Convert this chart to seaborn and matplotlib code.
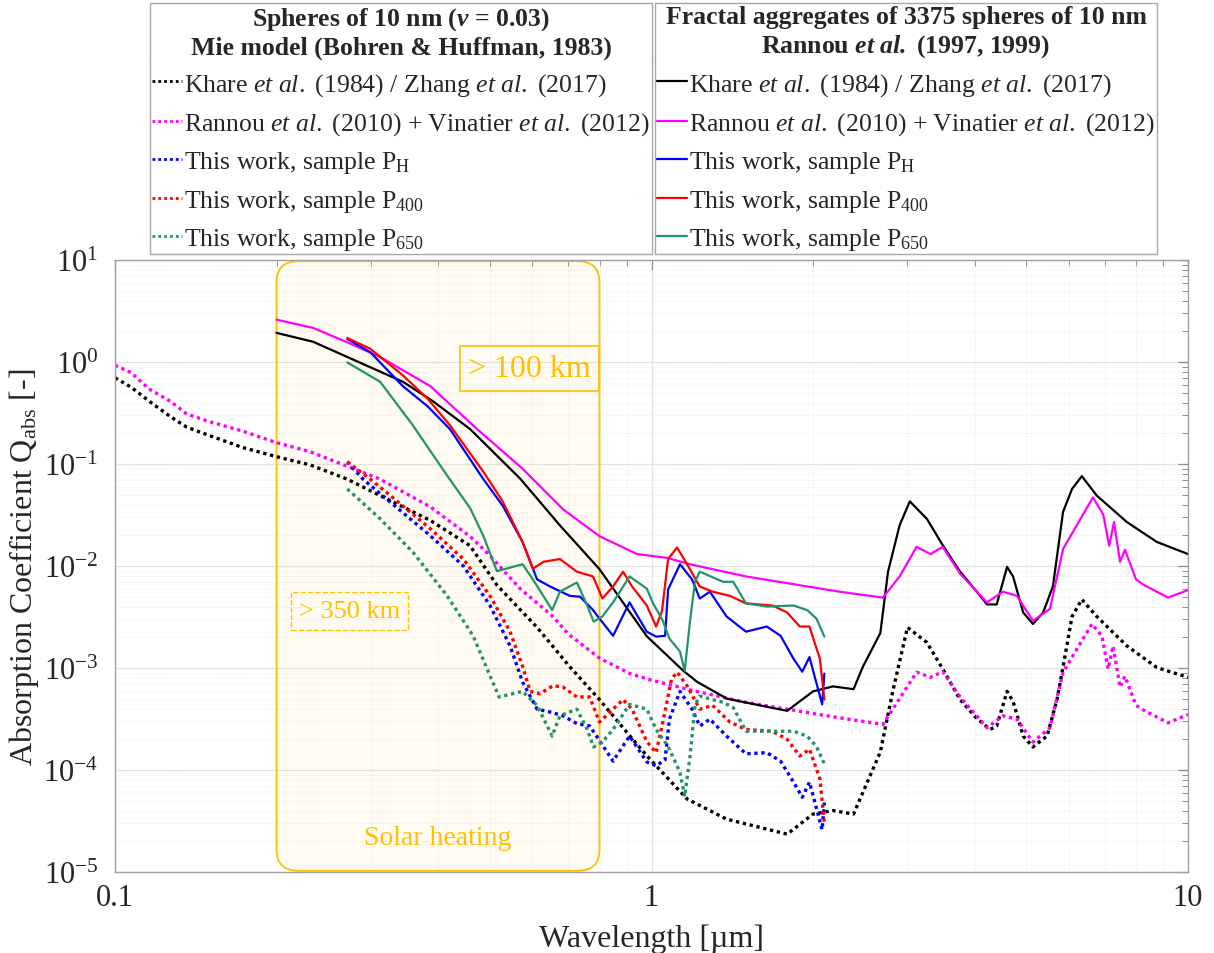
import numpy as np
import pandas as pd
import seaborn as sns
import matplotlib.pyplot as plt
from matplotlib.lines import Line2D
from matplotlib.patches import FancyBboxPatch
from matplotlib.ticker import LogLocator, NullFormatter, FuncFormatter, LogFormatterMathtext

# ---- data ----
# fractal aggregates (solid)
khare_agg_x = [0.2, 0.234, 0.271, 0.344, 0.392, 0.459, 0.569, 0.675, 0.80, 0.98, 1.146, 1.217, 1.383, 1.79,
               2.0, 2.18, 2.38, 2.48, 2.67, 2.76, 2.90, 3.03, 3.26, 3.49, 3.76, 4.04, 4.22, 4.4, 4.6, 4.72,
               4.93, 5.14, 5.37, 5.6, 5.85, 6.08, 6.34, 6.76, 7.69, 8.75, 10]
khare_agg_y = [1.93, 1.58, 1.12, 0.64, 0.41, 0.22, 0.072, 0.025, 0.0093, 2.05e-3, 9.4e-4, 7.3e-4, 5.0e-4, 3.8e-4,
               5.9e-4, 6.6e-4, 6.2e-4, 1.04e-3, 2.2e-3, 8.8e-3, 0.025, 0.043, 0.029, 0.016, 8.8e-3, 5.6e-3, 4.2e-3, 4.2e-3, 9.8e-3, 7.9e-3,
               3.5e-3, 2.7e-3, 3.5e-3, 6.3e-3, 0.034, 0.057, 0.076, 0.049, 0.027, 0.0172, 0.0131]

rannou_agg_x = [0.2, 0.234, 0.271, 0.312, 0.387, 0.473, 0.575, 0.684, 0.80, 0.94, 1.07, 1.18, 1.5, 2.24, 2.70,
                2.90, 3.12, 3.31, 3.49, 3.76, 4.22, 4.52, 4.80, 5.14, 5.53, 5.85, 6.65, 6.95, 7.13, 7.28, 7.47,
                7.63, 8.0, 8.24, 9.18, 10]
rannou_agg_y = [2.6, 2.16, 1.56, 1.12, 0.58, 0.22, 0.09, 0.036, 0.0196, 0.0131, 0.0120, 0.0104, 7.9e-3, 5.6e-3, 4.9e-3,
                7.9e-3, 0.0154, 0.0131, 0.0154, 8.4e-3, 4.4e-3, 5.6e-3, 5.1e-3, 2.9e-3, 3.8e-3, 0.0147, 0.047, 0.032, 0.0158, 0.027, 0.011,
                0.0144, 7.4e-3, 6.6e-3, 4.9e-3, 5.8e-3]

ph_agg_x = [0.271, 0.299, 0.344, 0.382, 0.421, 0.486, 0.528, 0.575, 0.612, 0.647, 0.704, 0.736, 0.778, 0.80, 0.848,
            0.91, 0.98, 1.02, 1.06, 1.074, 1.13, 1.19, 1.23, 1.285, 1.38, 1.5, 1.64, 1.74, 1.84, 1.91, 1.97, 2.08, 2.10]
ph_agg_y = [1.68, 1.25, 0.58, 0.37, 0.22, 0.071, 0.039, 0.0172, 7.4e-3, 6.3e-3, 5.1e-3, 5.0e-3, 3.7e-3, 3.05e-3, 2.07e-3,
            4.4e-3, 2.27e-3, 2.03e-3, 2.07e-3, 5.9e-3, 0.0104, 7.4e-3, 4.8e-3, 5.6e-3, 3.2e-3, 2.27e-3, 2.55e-3, 2.07e-3, 1.23e-3, 9.2e-4, 1.28e-3, 4.4e-4, 8.8e-4]

p400_agg_x = [0.271, 0.299, 0.344, 0.382, 0.421, 0.486, 0.528, 0.575, 0.601, 0.629, 0.675, 0.726, 0.778, 0.80, 0.81,
              0.848, 0.885, 0.92, 0.98, 1.02, 1.046, 1.074, 1.116, 1.165, 1.23, 1.30, 1.40, 1.5, 1.68, 1.79, 1.89,
              1.97, 2.06, 2.10]
p400_agg_y = [1.72, 1.35, 0.74, 0.44, 0.24, 0.084, 0.043, 0.0172, 9.4e-3, 0.011, 0.0117, 8.8e-3, 7.9e-3, 5.6e-3, 4.8e-3,
              6.3e-3, 8.8e-3, 6.3e-3, 4.1e-3, 2.55e-3, 3.6e-3, 0.0117, 0.0152, 0.0104, 6.3e-3, 5.6e-3, 5.1e-3, 4.3e-3, 4.1e-3, 3.5e-3, 2.55e-3,
              2.55e-3, 1.23e-3, 4.9e-4]

p650_agg_x = [0.271, 0.312, 0.359, 0.416, 0.459, 0.486, 0.515, 0.575, 0.601, 0.653, 0.675, 0.726, 0.759, 0.78, 0.81,
              0.848, 0.91, 0.98, 1.007, 1.05, 1.08, 1.13, 1.153, 1.18, 1.205, 1.23, 1.36, 1.42, 1.5, 1.64, 1.84,
              1.95, 2.03, 2.10]
p650_agg_y = [0.99, 0.64, 0.24, 0.077, 0.037, 0.0197, 8.9e-3, 0.0104, 7.4e-3, 3.7e-3, 5.6e-3, 6.9e-3, 4.1e-3, 2.85e-3, 3.2e-3,
              4.4e-3, 7.9e-3, 6.0e-3, 4.3e-3, 2.9e-3, 1.94e-3, 1.45e-3, 9.4e-4, 2.9e-3, 7.0e-3, 8.8e-3, 7.0e-3, 7.0e-3, 4.3e-3, 4.0e-3, 4.1e-3,
              3.7e-3, 3.05e-3, 2.03e-3]

# Mie spheres (dotted)
khare_mie_x = [0.1, 0.107, 0.116, 0.127, 0.136, 0.150, 0.173, 0.2, 0.231, 0.271, 0.312, 0.387, 0.459, 0.515, 0.612,
               0.704, 0.80, 0.912, 0.98, 1.165, 1.38, 1.79, 2.0, 2.18, 2.38, 2.48, 2.67, 2.82, 3.0, 3.26, 3.49,
               3.76, 4.04, 4.28, 4.4, 4.6, 4.72, 4.93, 5.14, 5.46, 5.70, 5.85, 6.08, 6.34, 6.76, 7.69, 8.75, 10]
khare_mie_y = [0.70, 0.57, 0.41, 0.29, 0.23, 0.19, 0.145, 0.118, 0.098, 0.071, 0.049, 0.028, 0.0158, 6.5e-3, 2.5e-3,
               1.03e-3, 4.9e-4, 2.15e-4, 1.38e-4, 5.2e-5, 3.3e-5, 2.35e-5, 3.7e-5, 4.0e-5, 3.7e-5, 6.1e-5, 1.5e-4, 6.1e-4, 2.5e-3, 1.78e-3, 9.8e-4,
               4.9e-4, 3.2e-4, 2.5e-4, 2.7e-4, 5.9e-4, 4.7e-4, 2.15e-4, 1.68e-4, 2.15e-4, 4.9e-4, 1.03e-3, 3.2e-3, 4.7e-3, 3.2e-3, 1.65e-3, 1.01e-3, 8.1e-4]

rannou_mie_x = [0.1, 0.107, 0.116, 0.127, 0.136, 0.150, 0.173, 0.2, 0.231, 0.312, 0.387, 0.459, 0.494, 0.569, 0.655,
                0.70, 0.80, 0.912, 1.0, 1.18, 1.5, 2.24, 2.70, 3.12, 3.31, 3.49, 3.76, 4.22, 4.52, 4.80, 5.14,
                5.53, 5.85, 6.62, 6.91, 7.10, 7.25, 7.47, 7.63, 8.0, 8.24, 9.18, 10]
rannou_mie_y = [0.93, 0.79, 0.54, 0.41, 0.31, 0.26, 0.21, 0.162, 0.132, 0.071, 0.038, 0.0195, 0.0135, 6.0e-3, 3.2e-3,
                2.15e-3, 1.25e-3, 8.8e-4, 7.6e-4, 6.1e-4, 4.6e-4, 3.25e-4, 2.8e-4, 9.1e-4, 8.1e-4, 9.2e-4, 5.2e-4, 2.6e-4, 3.4e-4, 3.15e-4, 1.88e-4,
                2.6e-4, 9.1e-4, 2.7e-3, 2.06e-3, 9.8e-4, 1.64e-3, 6.5e-4, 8.3e-4, 4.3e-4, 3.9e-4, 2.9e-4, 3.5e-4]

ph_mie_x = [0.271, 0.29, 0.336, 0.387, 0.446, 0.5, 0.545, 0.575, 0.612, 0.647, 0.684, 0.726, 0.767, 0.79, 0.848,
            0.91, 0.98, 1.02, 1.06, 1.08, 1.13, 1.19, 1.23, 1.285, 1.38, 1.5, 1.64, 1.74, 1.84, 1.91, 1.97, 2.08, 2.10]
ph_mie_y = [0.105, 0.071, 0.037, 0.0198, 0.010, 4.1e-3, 1.65e-3, 7.3e-4, 3.95e-4, 3.7e-4, 3.4e-4, 2.85e-4, 2.7e-4, 2.15e-4, 1.22e-4,
            2.15e-4, 1.2e-4, 1.1e-4, 1.26e-4, 3.15e-4, 5.9e-4, 3.95e-4, 2.7e-4, 3.15e-4, 2.15e-4, 1.44e-4, 1.48e-4, 1.22e-4, 7.6e-5, 5.4e-5, 7.6e-5, 2.6e-5, 4.8e-5]

p400_mie_x = [0.271, 0.299, 0.336, 0.387, 0.446, 0.5, 0.545, 0.575, 0.594, 0.62, 0.655, 0.684, 0.726, 0.767, 0.80,
              0.848, 0.885, 0.92, 0.98, 1.02, 1.05, 1.09, 1.116, 1.165, 1.23, 1.30, 1.40, 1.5, 1.68, 1.79, 1.89,
              1.97, 2.06, 2.10]
p400_mie_y = [0.105, 0.071, 0.043, 0.0232, 0.0117, 5.1e-3, 2.27e-3, 1.04e-3, 5.9e-4, 5.6e-4, 6.7e-4, 6.5e-4, 5.2e-4, 5.2e-4, 2.95e-4,
              3.95e-4, 4.9e-4, 3.95e-4, 1.9e-4, 1.48e-4, 2.95e-4, 7.8e-4, 9.1e-4, 6.7e-4, 3.95e-4, 4.3e-4, 2.95e-4, 2.5e-4, 2.4e-4, 2.0e-4, 1.37e-4,
              1.6e-4, 8.2e-5, 3.0e-5]

p650_mie_x = [0.271, 0.312, 0.359, 0.416, 0.465, 0.5, 0.52, 0.575, 0.612, 0.653, 0.675, 0.726, 0.759, 0.78, 0.81,
              0.848, 0.91, 0.98, 1.02, 1.074, 1.13, 1.153, 1.18, 1.205, 1.23, 1.36, 1.42, 1.5, 1.64, 1.84, 1.95,
              2.03, 2.10]
p650_mie_y = [0.057, 0.029, 0.0137, 5.1e-3, 2.07e-3, 8.4e-4, 5.2e-4, 5.9e-4, 4.3e-4, 2.15e-4, 3.4e-4, 3.95e-4, 2.5e-4, 1.68e-4, 1.88e-4,
              2.5e-4, 4.4e-4, 3.95e-4, 2.5e-4, 1.7e-4, 9.5e-5, 5.5e-5, 1.37e-4, 4.3e-4, 5.3e-4, 4.6e-4, 4.1e-4, 2.4e-4, 2.4e-4, 2.4e-4, 2.15e-4,
              1.7e-4, 1.15e-4]

x_ticks = [0.1, 1, 10]
y_ticks = [1e-5, 1e-4, 1e-3, 1e-2, 1e-1, 1, 10]

labels = ["Khare $\\mathit{et\\ al.}$ (1984) / Zhang $\\mathit{et\\ al.}$ (2017)",
          "Rannou $\\mathit{et\\ al.}$ (2010) + Vinatier $\\mathit{et\\ al.}$ (2012)",
          "This work, sample P$_{\\mathrm{H}}$",
          "This work, sample P$_{\\mathrm{400}}$",
          "This work, sample P$_{\\mathrm{650}}$"]
colors = ["#000000", "#FF00FF", "#0000FF", "#FF0000", "#21956A"]

mie_series = [(khare_mie_x, khare_mie_y), (rannou_mie_x, rannou_mie_y), (ph_mie_x, ph_mie_y),
              (p400_mie_x, p400_mie_y), (p650_mie_x, p650_mie_y)]
agg_series = [(khare_agg_x, khare_agg_y), (rannou_agg_x, rannou_agg_y), (ph_agg_x, ph_agg_y),
              (p400_agg_x, p400_agg_y), (p650_agg_x, p650_agg_y)]

# ---- style ----
sns.set_style("white")
plt.rcParams['font.family'] = ['Liberation Serif', 'DejaVu Serif']
plt.rcParams['mathtext.fontset'] = 'custom'
plt.rcParams['mathtext.rm'] = 'Liberation Serif'
plt.rcParams['mathtext.it'] = 'Liberation Serif:italic'
plt.rcParams['mathtext.bf'] = 'Liberation Serif:bold'
plt.rcParams['mathtext.bfit'] = 'Liberation Serif:bold:italic'

dotted = (0, (1, 1.1))
gold = '#FFC000'

fig = plt.figure(figsize=(12.14, 9.54), dpi=100)
ax = fig.add_axes([115 / 1214, 81 / 954, 1073 / 1214, 612 / 954])

for (xs, ys), c in zip(mie_series, colors):
    df = pd.DataFrame({'x': xs, 'y': ys})
    sns.lineplot(data=df, x='x', y='y', ax=ax, color=c, linestyle=dotted, linewidth=2.4,
                 estimator=None, sort=False, legend=False)
for (xs, ys), c in zip(agg_series, colors):
    df = pd.DataFrame({'x': xs, 'y': ys})
    sns.lineplot(data=df, x='x', y='y', ax=ax, color=c, linestyle='-', linewidth=1.6,
                 estimator=None, sort=False, legend=False)

ax.set_xscale('log')
ax.set_yscale('log')
ax.set_xticks(x_ticks)
ax.set_yticks(y_ticks)
ax.set_xlim(0.1, 10)
ax.set_ylim(1e-5, 10)

ax.xaxis.set_minor_locator(LogLocator(base=10, subs=np.arange(2, 10)))
ax.xaxis.set_major_formatter(FuncFormatter(lambda v, p: f"{v:g}"))
ax.xaxis.set_minor_formatter(NullFormatter())
ax.yaxis.set_minor_locator(LogLocator(base=10, subs=np.arange(2, 10), numticks=10))
ax.yaxis.set_major_formatter(LogFormatterMathtext())
ax.yaxis.set_minor_formatter(NullFormatter())

ax.grid(True, which='major', color='#E3E3E3', linewidth=0.9)
ax.grid(True, which='minor', color='#EBEBEB', linewidth=0.7, linestyle=':')
ax.tick_params(which='both', direction='in', top=True, right=True, colors='#8C8C8C',
               labelcolor='#262626', labelsize=22)
ax.tick_params(which='major', length=7, width=0.9)
ax.tick_params(which='minor', length=4, width=0.7)
ax.tick_params(axis='x', which='major', pad=8)
ax.tick_params(axis='y', which='major', pad=12)
for s in ax.spines.values():
    s.set_color('#A0A0A0')
    s.set_linewidth(1.0)

ax.set_xlabel('Wavelength [\u00b5m]', fontsize=23, color='#262626', labelpad=8)
ax.set_ylabel('Absorption Coefficient Q$_{\\mathrm{abs}}$ [-]', fontsize=23, color='#262626', labelpad=2)

# solar heating region (0.2 - 0.8 um)
x0 = (np.log10(0.2) + 1) / 2
x1 = (np.log10(0.8) + 1) / 2
box = FancyBboxPatch((x0, 0.002), x1 - x0, 0.996, transform=ax.transAxes,
                     boxstyle='round,pad=0,rounding_size=0.02', mutation_aspect=1073 / 612,
                     facecolor=(1.0, 0.8, 0.3, 0.07), edgecolor=gold, linewidth=1.3, zorder=1)
ax.add_patch(box)

ax.text(0.592, 0.87, '> 100 km', color=gold, fontsize=23, ha='center', va='center', zorder=5,
        bbox=dict(boxstyle='square,pad=0.25', facecolor='none', edgecolor=gold, linewidth=1.2))
ax.text(0.274, 3.6e-3, '> 350 km', color=gold, fontsize=19, ha='center', va='center', zorder=5,
        bbox=dict(boxstyle='square,pad=0.3', facecolor='none', edgecolor=gold, linewidth=1.0, linestyle='--'))
ax.text(0.40, 2.2e-5, 'Solar heating', color=gold, fontsize=20, ha='center', va='center', zorder=5)

# ---- legends ----
title1 = "Spheres of 10 nm ($\\mathbfit{\\nu}$ = 0.03)\nMie model (Bohren & Huffman, 1983)"
title2 = "Fractal aggregates of 3375 spheres of 10 nm\nRannou $\\mathbfit{et\\ al.}$ (1997, 1999)"
h1 = [Line2D([], [], color=c, linestyle=dotted, linewidth=2.0) for c in colors]
h2 = [Line2D([], [], color=c, linestyle='-', linewidth=1.6) for c in colors]

common = dict(frameon=True, fancybox=False, edgecolor='#A8A8A8', framealpha=1, fontsize=18.5,
              title_fontsize=18.5, handlelength=1.15, handletextpad=0.1, borderaxespad=0,
              borderpad=0.08, labelspacing=0.48)
leg1 = fig.legend(h1, labels, title=title1, loc='lower right',
                  bbox_to_anchor=(652 / 1214, 1 - 255 / 954), **common)
leg2 = fig.legend(h2, labels, title=title2, loc='lower left',
                  bbox_to_anchor=(655 / 1214, 1 - 255 / 954), **common)
for leg in (leg1, leg2):
    t = leg.get_title()
    t.set_fontweight('bold')
    t.set_multialignment('center')
    leg.get_frame().set_linewidth(1.0)

fig.canvas.draw()
r = fig.canvas.get_renderer()
inv = fig.transFigure.inverted()
for leg in (leg1, leg2):
    tb = leg.get_title().get_window_extent(r)
    fb = leg.get_frame().get_window_extent(r)
    ya = tb.y0 - 3
    (fx0, fy), (fx1, _) = inv.transform([(fb.x0, ya), (fb.x1, ya)])
    fig.add_artist(Line2D([fx0, fx1], [fy, fy], color='#A8A8A8', linewidth=1.0))

fig.savefig('out.png', dpi=100, facecolor='white')
